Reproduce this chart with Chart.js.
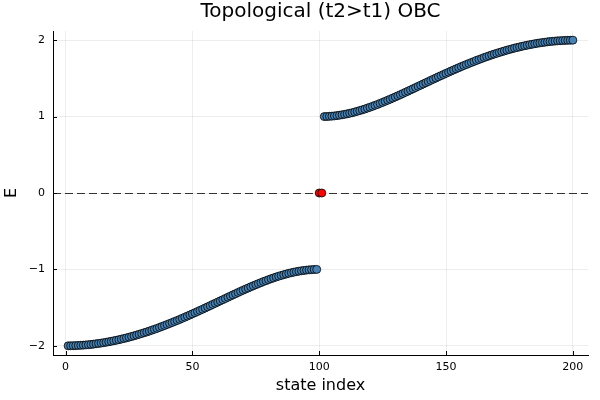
<!DOCTYPE html>
<html>
<head>
<meta charset="utf-8">
<title>Topological (t2>t1) OBC</title>
<script src="https://cdn.jsdelivr.net/npm/chart.js@4.4.1/dist/chart.umd.min.js"></script>
<style>
    html, body { margin: 0; padding: 0; background: #fff; }
    #wrap { width: 600px; height: 400px; }
</style>
</head>
<body>
<div id="wrap"><canvas id="chart"></canvas></div>
<script>
// Energies: lower band (states 1-99), edge states (100-101), upper band (102-200)
const lowerStart = 1;
const lowerBand = [
    -2.000, -1.999, -1.998, -1.997, -1.995, -1.993, -1.991, -1.988, -1.985, -1.982,
    -1.978, -1.973, -1.969, -1.964, -1.959, -1.953, -1.947, -1.941, -1.934, -1.927,
    -1.920, -1.912, -1.904, -1.896, -1.887, -1.878, -1.869, -1.859, -1.849, -1.839,
    -1.828, -1.818, -1.807, -1.795, -1.784, -1.772, -1.759, -1.747, -1.734, -1.721,
    -1.708, -1.695, -1.681, -1.668, -1.654, -1.640, -1.625, -1.611, -1.596, -1.581,
    -1.566, -1.551, -1.536, -1.521, -1.505, -1.490, -1.474, -1.458, -1.443, -1.427,
    -1.411, -1.396, -1.380, -1.364, -1.349, -1.333, -1.318, -1.302, -1.287, -1.272,
    -1.257, -1.243, -1.228, -1.214, -1.200, -1.186, -1.173, -1.159, -1.147, -1.134,
    -1.122, -1.111, -1.099, -1.089, -1.079, -1.069, -1.060, -1.051, -1.043, -1.036,
    -1.029, -1.023, -1.018, -1.013, -1.009, -1.006, -1.003, -1.001, -1.000
];

const edgeStart = 100;
const edgeStates = [0.0, 0.0];

const upperStart = 102;
const upperBand = [
    1.000, 1.001, 1.003, 1.006, 1.009, 1.013, 1.018, 1.023, 1.029, 1.036,
    1.043, 1.051, 1.060, 1.069, 1.079, 1.089, 1.099, 1.111, 1.122, 1.134,
    1.147, 1.159, 1.173, 1.186, 1.200, 1.214, 1.228, 1.243, 1.257, 1.272,
    1.287, 1.302, 1.318, 1.333, 1.349, 1.364, 1.380, 1.396, 1.411, 1.427,
    1.443, 1.458, 1.474, 1.490, 1.505, 1.521, 1.536, 1.551, 1.566, 1.581,
    1.596, 1.611, 1.625, 1.640, 1.654, 1.668, 1.681, 1.695, 1.708, 1.721,
    1.734, 1.747, 1.759, 1.772, 1.784, 1.795, 1.807, 1.818, 1.828, 1.839,
    1.849, 1.859, 1.869, 1.878, 1.887, 1.896, 1.904, 1.912, 1.920, 1.927,
    1.934, 1.941, 1.947, 1.953, 1.959, 1.964, 1.969, 1.973, 1.978, 1.982,
    1.985, 1.988, 1.991, 1.993, 1.995, 1.997, 1.998, 1.999, 2.000
];

const xTicks = [0, 50, 100, 150, 200];
const yTicks = [-2, -1, 0, 1, 2];
const zeroLine = [0];

const FONT = 'DejaVu Sans';

// turn a run of energies into {x: state index, y: E} points
function toPoints(start, values) {
    return values.map((v, i) => ({ x: start + i, y: v }));
}

function fmtTick(v) {
    return v < 0 ? '\u2212' + Math.abs(v) : String(v);
}

// dashed reference line at E = 0, under the markers
const zeroLinePlugin = {
    id: 'zeroLine',
    beforeDatasetsDraw(chart) {
        const { ctx, chartArea, scales } = chart;
        ctx.save();
        ctx.strokeStyle = '#333';
        ctx.lineWidth = 1.2;
        ctx.setLineDash([8, 4]);
        zeroLine.forEach(v => {
            const y = Math.round(scales.y.getPixelForValue(v)) + 0.5;
            ctx.beginPath();
            ctx.moveTo(chartArea.left, y);
            ctx.lineTo(chartArea.right, y);
            ctx.stroke();
        });
        ctx.restore();
    }
};

// inward tick marks and the centred title
const framePlugin = {
    id: 'frame',
    afterDraw(chart) {
        const { ctx, chartArea, scales } = chart;
        ctx.save();
        ctx.strokeStyle = '#000';
        ctx.lineWidth = 1;
        xTicks.forEach(v => {
            const x = Math.round(scales.x.getPixelForValue(v)) + 0.5;
            ctx.beginPath();
            ctx.moveTo(x, chartArea.bottom);
            ctx.lineTo(x, chartArea.bottom - 4);
            ctx.stroke();
        });
        yTicks.forEach(v => {
            const y = Math.round(scales.y.getPixelForValue(v)) + 0.5;
            ctx.beginPath();
            ctx.moveTo(chartArea.left, y);
            ctx.lineTo(chartArea.left + 4, y);
            ctx.stroke();
        });

        ctx.fillStyle = '#000';
        ctx.font = '20px "' + FONT + '"';
        ctx.textAlign = 'center';
        ctx.textBaseline = 'middle';
        ctx.fillText('Topological (t2>t1) OBC', (chartArea.left + chartArea.right) / 2, 12);
        ctx.restore();
    }
};

new Chart(document.getElementById('chart'), {
    type: 'scatter',
    data: {
        datasets: [
            {
                data: toPoints(lowerStart, lowerBand).concat(toPoints(upperStart, upperBand)),
                backgroundColor: '#4682b4',
                borderColor: '#000',
                borderWidth: 0.8,
                pointRadius: 4
            },
            {
                data: toPoints(edgeStart, edgeStates),
                backgroundColor: '#ff0000',
                borderColor: '#000',
                borderWidth: 0.8,
                pointRadius: 4
            }
        ]
    },
    options: {
        responsive: true,
        maintainAspectRatio: false,
        animation: false,
        events: [],
        layout: {
            padding: { top: 31, right: 12, bottom: 0, left: 0 }
        },
        scales: {
            x: {
                type: 'linear',
                min: -4.97,
                max: 205.97,
                afterBuildTicks: axis => { axis.ticks = xTicks.map(v => ({ value: v })); },
                afterFit: axis => { axis.height = 45; },
                grid: {
                    color: 'rgba(0,0,0,0.07)',
                    lineWidth: 1,
                    drawTicks: false
                },
                border: { display: true, color: '#000', width: 1 },
                ticks: {
                    color: '#000',
                    padding: 6,
                    maxRotation: 0,
                    font: { family: FONT, size: 11 },
                    callback: v => fmtTick(v)
                },
                title: {
                    display: true,
                    text: 'state index',
                    color: '#000',
                    padding: { top: 0, bottom: 5 },
                    font: { family: FONT, size: 16 }
                }
            },
            y: {
                type: 'linear',
                min: -2.12,
                max: 2.12,
                afterBuildTicks: axis => { axis.ticks = yTicks.map(v => ({ value: v })); },
                afterFit: axis => { axis.width = 53; },
                grid: {
                    color: 'rgba(0,0,0,0.07)',
                    lineWidth: 1,
                    drawTicks: false
                },
                border: { display: true, color: '#000', width: 1 },
                ticks: {
                    color: '#000',
                    padding: 8,
                    font: { family: FONT, size: 11 },
                    callback: v => fmtTick(v)
                },
                title: {
                    display: true,
                    text: 'E',
                    color: '#000',
                    padding: { top: 2, bottom: 0 },
                    font: { family: FONT, size: 16 }
                }
            }
        },
        plugins: {
            legend: { display: false },
            tooltip: { enabled: false },
            title: { display: false }
        }
    },
    plugins: [zeroLinePlugin, framePlugin]
});
</script>
</body>
</html>
